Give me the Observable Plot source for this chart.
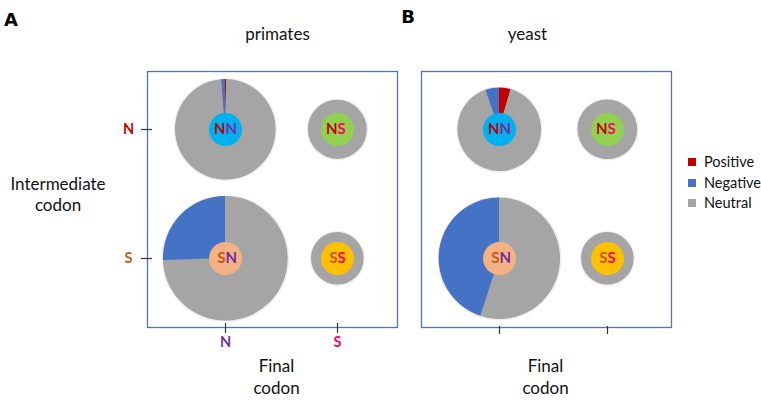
<!DOCTYPE html>
<html>
<head>
<meta charset="utf-8">
<script src="https://cdn.jsdelivr.net/npm/d3@7"></script>
<script src="https://cdn.jsdelivr.net/npm/@observablehq/plot@0.6"></script>
<style>
  body { margin: 0; background: #fff; }
  #chart { position: relative; width: 761px; height: 412px; overflow: hidden; background: #fff; font-family: Lato, "Noto Sans", sans-serif; }
  .panel { position: absolute; top: 0; }
  .legend-item { position: absolute; left: 688px; height: 20px; line-height: 20px; font-size: 14.5px; color: #111; white-space: nowrap; display: flex; align-items: center; }
  .legend-item span.sw { display: inline-block; width: 8px; height: 8px; margin-right: 8px; }
</style>
</head>
<body>
<div id="chart"></div>
<script>
// ---- data ----
const combos = ["NN", "NS", "SN", "SS"];
const intermediateCodon = ["N", "N", "S", "S"];
const finalCodon = ["N", "S", "N", "S"];
const codonLetters = ["N", "S"];
const classes = ["Positive", "Negative", "Neutral"];

// relative pie totals (pie area units) and class shares in percent
const primatesTotal = [100, 34, 154, 27];
const primatesPositive = [0.4, 0, 0, 0];
const primatesNegative = [1.2, 0, 25.5, 0];

const yeastTotal = [69, 35, 146, 27];
const yeastPositive = [4.5, 0, 0, 0];
const yeastNegative = [5.3, 0, 45, 0];

// ---- styles ----
const classColors = { Positive: "#C00000", Negative: "#4472C4", Neutral: "#A5A5A5" };
const comboColors = ["#00B0F0", "#92D050", "#F4B183", "#FFC000"];
const intermediateColors = { N: "#C00000", S: "#C55A11" };
const finalColors = { N: "#7030A0", S: "#FF0066" };
const frameColor = "#4F74B8";
const tickColor = "#333";

function rows(total, pos, neg) {
  return combos.map((c, i) => ({
    combo: c,
    intermediate: intermediateCodon[i],
    final: finalCodon[i],
    total: total[i],
    Positive: pos[i],
    Negative: neg[i],
    Neutral: 100 - pos[i] - neg[i]
  }));
}

function pieMark(data) {
  return (index, scales) => {
    const g = d3.create("svg:g");
    const pie = d3.pie().sort(null).value(d => d.value);
    const arc = d3.arc().innerRadius(0);
    for (const d of data) {
      const cx = scales.x(d.final), cy = scales.y(d.intermediate), R = scales.r(d.total);
      const slices = pie([
        { k: "Positive", value: d.Positive },
        { k: "Neutral", value: d.Neutral },
        { k: "Negative", value: d.Negative }
      ]);
      for (const s of slices) {
        if (!(s.data.value > 0)) continue;
        g.append("path")
          .attr("transform", `translate(${cx},${cy})`)
          .attr("d", arc.outerRadius(R)(s))
          .attr("fill", classColors[s.data.k]);
      }
    }
    return g.node();
  };
}

function letterMarks(data) {
  const common = { x: "final", y: "intermediate", fontWeight: "bold", fontSize: 15, fontFamily: "Lato" };
  return codonLetters.flatMap(L => [
    Plot.text(data.filter(d => d.intermediate === L), { ...common, text: d => d.intermediate, textAnchor: "end", fill: intermediateColors[L] }),
    Plot.text(data.filter(d => d.final === L), { ...common, text: d => d.final, textAnchor: "start", fill: finalColors[L] })
  ]);
}

function panel({ data, width, marginLeft, marginRight, xRange, title, titleDx, letter, letterDx, letterDy, axisDx, showLeft, tickInsetTop, tickInsetBottom }) {
  const textFont = { fontFamily: "Lato", fontSize: 17, fill: "#111" };
  const frameW = width - marginLeft - marginRight;
  const marks = [
    Plot.frame({ stroke: frameColor, strokeWidth: 1.3 }),
    Plot.ruleX(codonLetters, { x: d => d, insetTop: tickInsetTop, insetBottom: tickInsetBottom, stroke: tickColor, strokeWidth: 1.2 }),
    Plot.dot(data, { x: "final", y: "intermediate", r: "total", fill: classColors.Neutral, stroke: "#000", strokeOpacity: 0.07, strokeWidth: 3 }),
    pieMark(data),
    Plot.dot(data, { x: "final", y: "intermediate", r: 16.5, fill: "combo" }),
    ...letterMarks(data),
    Plot.text([letter], { frameAnchor: "top-left", dx: letterDx, dy: letterDy, fontFamily: "DejaVu Sans", fontWeight: "bold", fontSize: 18, fill: "#000", textAnchor: "middle" }),
    Plot.text([title], { frameAnchor: "top", dx: titleDx, dy: -43.5, ...textFont }),
    Plot.text(["Final\ncodon"], { frameAnchor: "bottom", dx: axisDx, dy: 66, lineHeight: 1.26, ...textFont })
  ];
  if (showLeft) {
    marks.push(
      Plot.ruleY(codonLetters, { y: d => d, insetLeft: -6, insetRight: frameW - 5, stroke: tickColor, strokeWidth: 1.2 }),
      ...codonLetters.map(L => Plot.text([L], { y: d => d, frameAnchor: "left", dx: -19, textAnchor: "middle", fill: intermediateColors[L], fontWeight: "bold", fontSize: 14.5, fontFamily: "Lato" })),
      ...codonLetters.map(L => Plot.text([L], { x: d => d, frameAnchor: "bottom", dy: 19, fill: finalColors[L], fontWeight: "bold", fontSize: 14.5, fontFamily: "Lato" })),
      Plot.text(["Intermediate\ncodon"], { frameAnchor: "left", dx: -89.5, dy: -6, lineHeight: 1.29, ...textFont, textAnchor: "middle" })
    );
  }
  return Plot.plot({
    width, height: 412,
    marginLeft, marginRight, marginTop: 71, marginBottom: 85,
    style: { background: "transparent", fontFamily: "Lato" },
    x: { type: "point", domain: codonLetters, range: xRange, padding: 0, axis: null },
    y: { type: "point", domain: codonLetters, range: [129, 258], padding: 0, axis: null },
    r: { domain: [0, 100], range: [0, 50] },
    color: { domain: combos, range: comboColors },
    marks
  });
}

const chart = document.getElementById("chart");

const svgA = panel({
  data: rows(primatesTotal, primatesPositive, primatesNegative),
  width: 396, marginLeft: 147, marginRight: -1, xRange: [225, 337],
  title: "primates", titleDx: 5, letter: "A", letterDx: -136.5, letterDy: -58.5, axisDx: 4,
  showLeft: true, tickInsetTop: 252, tickInsetBottom: -6
});
const svgB = panel({
  data: rows(yeastTotal, yeastPositive, yeastNegative),
  width: 365, marginLeft: 25, marginRight: 90, xRange: [103, 211],
  title: "yeast", titleDx: -19, letter: "B", letterDx: -13.5, letterDy: -61, axisDx: -1,
  showLeft: false, tickInsetTop: 255, tickInsetBottom: -7
});

const wrapA = document.createElement("div"); wrapA.className = "panel"; wrapA.style.left = "0px"; wrapA.appendChild(svgA);
const wrapB = document.createElement("div"); wrapB.className = "panel"; wrapB.style.left = "396px"; wrapB.appendChild(svgB);
svgA.style.overflow = "visible";
chart.appendChild(wrapA);
chart.appendChild(wrapB);

// legend
const legendY = [162, 183, 203];
classes.forEach((k, i) => {
  const item = document.createElement("div");
  item.className = "legend-item";
  item.style.top = (legendY[i] - 10) + "px";
  const sw = document.createElement("span");
  sw.className = "sw"; sw.style.background = classColors[k];
  item.appendChild(sw);
  item.appendChild(document.createTextNode(k));
  chart.appendChild(item);
});
</script>
</body>
</html>
